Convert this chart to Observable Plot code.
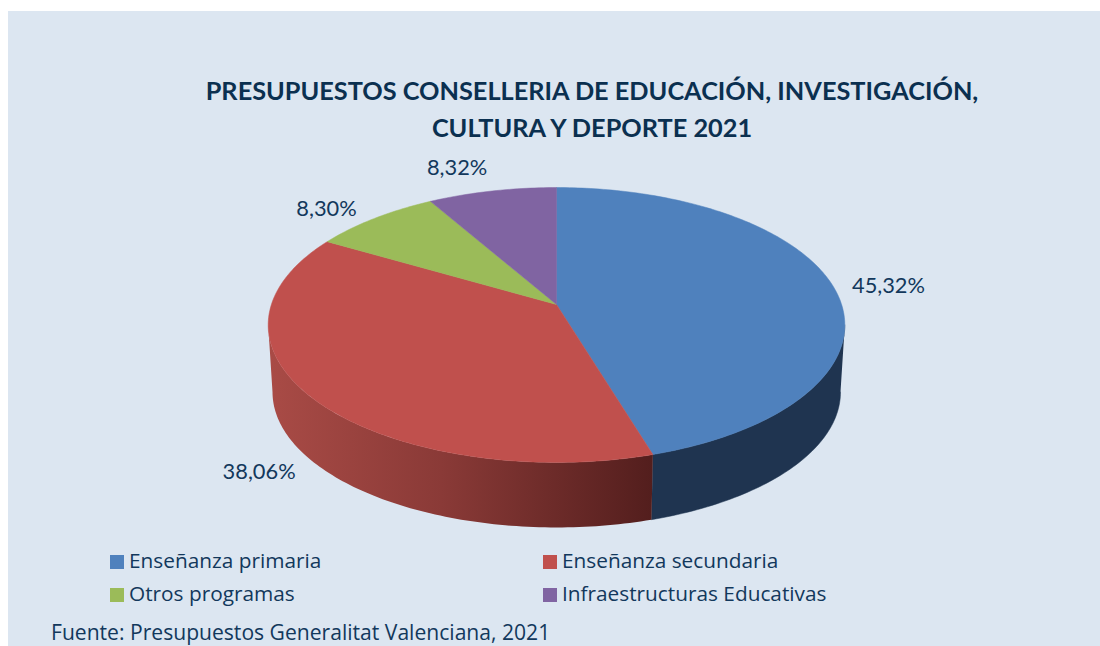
<!DOCTYPE html>
<html lang="es">
<head>
<meta charset="utf-8">
<script src="https://cdn.jsdelivr.net/npm/d3@7"></script>
<script src="https://cdn.jsdelivr.net/npm/@observablehq/plot@0.6"></script>
<style>
  html, body { margin: 0; padding: 0; background: #fff; width: 1100px; height: 646px; overflow: hidden; }
  #panel { position: absolute; left: 8px; top: 11px; width: 1092px; height: 635px; background: #dce6f1; }
  #chart { position: absolute; left: 0; top: 0; }
  #chart svg { background: transparent; display: block; }
  h1 { position: absolute; left: 0; top: 72px; width: 1184px; margin: 0; text-align: center;
       font: 700 25.3px/37px Lato, sans-serif; color: #0b3050; }
  .leg { position: absolute; font: 20.8px/24px "Open Sans", sans-serif; color: #12385c; white-space: nowrap; }
  .sw { position: absolute; width: 14px; height: 14px; }
  #src { position: absolute; left: 51px; top: 620px; font: 21.1px/24px "Open Sans", sans-serif; color: #12385c; white-space: nowrap; }
</style>
</head>
<body>
<div id="panel"></div>
<div id="chart"></div>
<h1>PRESUPUESTOS CONSELLERIA DE EDUCACIÓN, INVESTIGACIÓN,<br>CULTURA Y DEPORTE 2021</h1>
<div id="legend"></div>
<div id="src">Fuente: Presupuestos Generalitat Valenciana, 2021</div>
<script>
// Data
const categories = ["Enseñanza primaria", "Enseñanza secundaria", "Otros programas", "Infraestructuras Educativas"];
const shares = [45.32, 38.06, 8.30, 8.32];
const labels = ["45,32%", "38,06%", "8,30%", "8,32%"];
const colors = ["#4f81bd", "#c0504d", "#9bbb59", "#8064a2"];

// Layout
const tilt = 0.149, floorScale = 0.985, floorDrop = 0.5015;
const labelOffsets = [[56, 1], [-51, 76], [-48, -9], [-35, -23]];
const legendPos = [[110, 555], [543, 555], [110, 588], [543, 588]];

// Perspective of the disc: angle clockwise from the top -> plot units
const project = (deg, scale = 1, drop = 0) => {
  const a = deg * Math.PI / 180, u = Math.sin(a), v = -Math.cos(a), w = 1 - tilt * v;
  return {x: scale * u / w, y: scale * v / w + drop};
};
const total = d3.sum(shares);
let acc = 0;
const slices = shares.map((s, i) => {
  const start = acc / total * 360; acc += s;
  return {i, start, end: acc / total * 360, mid: (start + s / total * 180)};
});
const arc = (from, to, scale, drop) => {
  const n = Math.max(2, Math.ceil(Math.abs(to - from)));
  return d3.range(n + 1).map(k => project(from + (to - from) * k / n, scale, drop));
};
const wedge = s => [{x: 0, y: 0}, ...arc(s.start, s.end, 1, 0), {x: 0, y: 0}];
const wall = (from, to) => [...arc(from, to, 1, 0), ...arc(to, from, floorScale, floorDrop)];

// The side wall runs between the two widest points of the projected disc
const widest = Math.acos(-tilt) * 180 / Math.PI;
const junction = slices[0].end;
const marks = [
  Plot.line(wall(widest, junction), {x: "x", y: "y", fill: "#1f3450", stroke: "#1f3450", strokeWidth: 0.5}),
  Plot.line(wall(junction, 360 - widest), {x: "x", y: "y", fill: "url(#redWall)", stroke: "none"}),
  ...slices.map(s => Plot.line(wedge(s), {x: "x", y: "y", fill: colors[s.i], stroke: colors[s.i], strokeWidth: 0.5})),
  ...slices.map(s => {
    const p = project(s.mid);
    return Plot.text([labels[s.i]], {
      x: () => p.x, y: () => p.y, text: d => d,
      dx: labelOffsets[s.i][0], dy: labelOffsets[s.i][1],
      fontSize: 21.8, fontFamily: "Lato, sans-serif", fill: "#12385c"
    });
  })
];

const plot = Plot.plot({
  width: 1100, height: 646, margin: 0,
  style: {background: "transparent"},
  x: {domain: [-1, 1], range: [270.9, 841.1], axis: null},
  y: {domain: [-1, 1], range: [169.6, 438.4], axis: null},
  marks
});
const grad = d3.select(plot).insert("defs", ":first-child")
  .append("linearGradient").attr("id", "redWall");
[["0%", "#a94b46"], ["45%", "#8a3a37"], ["100%", "#531e1d"]].forEach(([o, c]) =>
  grad.append("stop").attr("offset", o).attr("stop-color", c));
document.getElementById("chart").append(plot);

// Legend
const leg = d3.select("#legend");
categories.forEach((c, i) => {
  const [x, y] = legendPos[i];
  leg.append("div").attr("class", "sw").style("left", x + "px").style("top", y + "px").style("background", colors[i]);
  leg.append("div").attr("class", "leg").style("left", (x + 19) + "px").style("top", (y - 7) + "px").text(c);
});
</script>
</body>
</html>
